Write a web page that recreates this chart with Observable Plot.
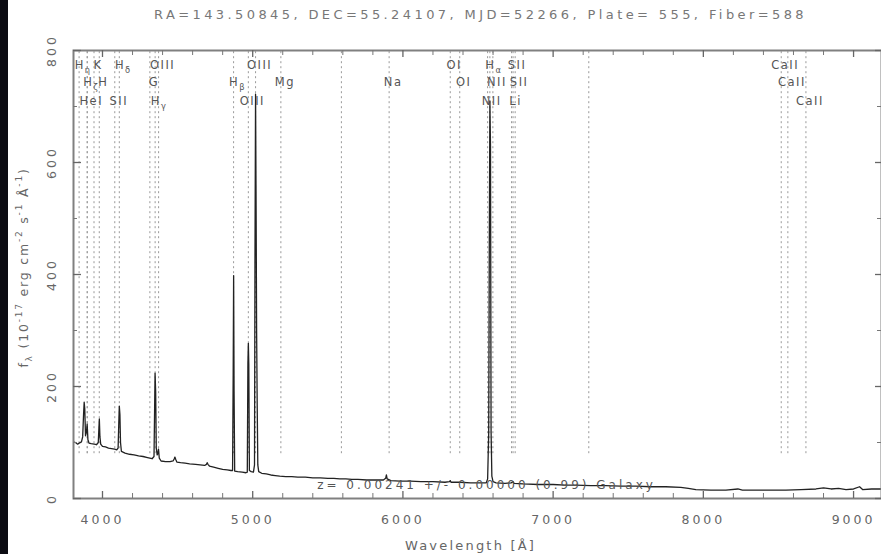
<!DOCTYPE html>
<html><head><meta charset="utf-8">
<script src="https://cdn.jsdelivr.net/npm/d3@7"></script>
<script src="https://cdn.jsdelivr.net/npm/@observablehq/plot@0.6"></script>
<style>
html,body{margin:0;padding:0;background:#fff;overflow:hidden;}
#strip{position:fixed;left:0;top:0;width:8px;height:100%;background:#0b0b12;z-index:5;}
#title{height:32px;line-height:30px;width:881px;box-sizing:border-box;padding-left:80px;text-align:center;font-family:"DejaVu Sans";font-size:13px;letter-spacing:3.4px;color:#777;white-space:nowrap;}
</style></head><body>
<div id="strip"></div>
<div id="title"></div>
<div id="chart"></div>
<script>
// ---- data ----
const titleText = "RA=143.50845, DEC=55.24107, MJD=52266, Plate= 555, Fiber=588";
const zText = "z= 0.00241 +/- 0.00000 (0.99) Galaxy";
const xTitle = "Wavelength [Å]";
const yTitle = "f_λ (10^-17 erg cm^-2 s^-1 Å^-1)";
const redshift = 0.00241;

const specWave = [3807,3820,3835,3845,3860,3868,3874,3878,3882,3887,3893,3898,3903,3910,3925,3945,3960,3972,3976,3979,3983,3988,
  4000,4020,4040,4060,4080,4095,4104,4108,4112,4116,4120,4126,4150,4180,4210,4240,4270,4300,4330,4343,4347,4350,4354,4358,4364,4368,4373,4378,
  4390,4420,4450,4470,4478,4482,4487,4495,4520,4550,4580,4620,4650,4680,4692,4697,4702,4712,4740,4770,4800,4830,4855,4866,4870,4873,4876,4880,
  4900,4930,4955,4964,4968,4971,4974,4978,4990,5005,5012,5015,5019,5022,5026,5030,5034,5040,5060,5090,5120,5150,5180,5220,5260,5300,5350,5400,
  5450,5500,5540,5580,5620,5660,5700,5760,5820,5870,5885,5890,5895,5920,5980,6050,6120,6200,6280,6310,6315,6320,6380,6450,6520,6555,6564,6571,
  6575,6579,6583,6587,6592,6600,6620,6680,6720,6733,6740,6800,6900,7000,7080,7150,7250,7350,7450,7550,7650,7750,7850,7900,7950,8050,8150,8230,
  8260,8350,8450,8550,8650,8750,8800,8850,8900,8950,9000,9040,9060,9120,9186];
const specFlux = [101,100,97,99,101,110,150,172,160,112,118,133,105,99,98,97,96,100,125,142,110,97,
  93,92,90,89,88,87,90,130,165,150,100,84,81,79,78,76,75,73,71,75,160,224,190,90,78,80,88,72,
  67,66,66,67,71,74,70,65,64,63,62,61,60,59,61,64,61,58,56,54,52,51,50,50,220,398,190,49,
  48,47,46,47,240,277,240,50,48,47,60,420,722,560,300,165,60,48,45,44,42,41,40,39,39,38,38,37,
  37,36,36,35,35,34,34,33,33,33,36,42,35,32,31,31,30,30,29,30,32,29,29,28,28,28,35,116,
  446,710,630,120,40,30,28,27,28,30,27,26,25,25,24,24,23,23,22,22,21,21,20,18,16,15,15,17,
  15,15,15,15,16,17,19,17,18,16,17,21,16,17,17];

const labelText = ["H_η","K","H_δ","OIII","OIII","OI","H_α","SII","CaII",
                   "H_ζ","H","G","H_β","Mg","Na","OI","NII","SII","CaII",
                   "HeI","SII","H_γ","OIII","NII","Li","CaII"];
const labelRest = [3835,3934,4102,4363,5007,6300,6563,6717,8498,
                   3889,3969,4305,4861,5175,5894,6363,6583,6731,8542,
                   3889,4072,4340,4959,6548,6707,8662];
const labelRow  = [1,1,1,1,1,1,1,1,1,
                   2,2,2,2,2,2,2,2,2,2,
                   3,3,3,3,3,3,3];
const unlabeledRest = [5577, 7220];

const xMajor = [4000,5000,6000,7000,8000,9000];
const xMinor = [4200,4400,4600,4800,5200,5400,5600,5800,6200,6400,6600,6800,7200,7400,7600,7800,8200,8400,8600,8800];
const yMajor = [0,200,400,600,800];
const yMinor = [100,300,500,700];

// ---- build ----
document.getElementById("title").textContent = titleText;
const spectrum = specWave.map((w,i)=>({w, f: specFlux[i]}));
const labels = labelText.map((t,i)=>({text:t, obs: labelRest[i]*(1+redshift), row: labelRow[i]}));
const lineObs = labelRest.concat(unlabeledRest).map(r => r*(1+redshift));

const W = 881, H = 522, mL = 73, mR = 0, mT = 18, mB = 56;
const innerW = W - mL - mR, innerH = H - mT - mB;
const lineBottom = 80;
const rowDy = [15, 32, 51];
const txt = "#666";

const chart = Plot.plot({
  width: W, height: H, marginLeft: mL, marginRight: mR, marginTop: mT, marginBottom: mB,
  x: {domain: [3807, 9186]},
  y: {domain: [0, 800]},
  axis: null,
  style: {fontFamily: "DejaVu Sans", background: "#fff", overflow: "visible"},
  marks: [
    Plot.ruleX(lineObs, {x: d=>d, y1: lineBottom, y2: 800, stroke: "#999", strokeWidth: 1, strokeDasharray: "2,3"}),
    Plot.line(spectrum, {x: "w", y: "f", stroke: "#222", strokeWidth: 1.3, clip: true}),
    Plot.frame({stroke: "#808080", strokeWidth: 2}),
    Plot.tickX(xMajor, {x: d=>d, insetTop: innerH - 7, stroke: "#666", strokeWidth: 1.3}),
    Plot.tickX(xMajor, {x: d=>d, insetBottom: innerH - 7, stroke: "#666", strokeWidth: 1.3}),
    Plot.tickX(xMinor, {x: d=>d, insetTop: innerH - 5, stroke: "#777"}),
    Plot.tickX(xMinor, {x: d=>d, insetBottom: innerH - 5, stroke: "#777"}),
    Plot.tickY(yMajor, {y: d=>d, insetRight: innerW - 8, stroke: "#666", strokeWidth: 1.3}),
    Plot.tickY(yMajor, {y: d=>d, insetLeft: innerW - 6, stroke: "#666", strokeWidth: 1.3}),
    Plot.tickY(yMinor, {y: d=>d, insetRight: innerW - 4, stroke: "#777"}),
    Plot.tickY(yMinor, {y: d=>d, insetLeft: innerW - 4, stroke: "#777"}),
    Plot.text(xMajor, {x: d=>d, text: d=>String(d), frameAnchor: "bottom", textAnchor: "middle", lineAnchor: "middle", dy: 21, fontSize: 12.5, fill: txt, ariaDescription: "xtick"}),
    Plot.text(yMajor, {y: d=>d, text: d=>String(d), frameAnchor: "left", textAnchor: "middle", lineAnchor: "middle", dx: -22, rotate: -90, fontSize: 12.5, fill: txt, ariaDescription: "ytick"}),
    ...[1,2,3].map(r => Plot.text(labels.filter(d=>d.row===r), {x: "obs", text: "text", frameAnchor: "top", textAnchor: "middle", lineAnchor: "middle", dy: rowDy[r-1], dx: 4, fontSize: 11.5, fill: "#555", ariaDescription: "linelabel"})),
    Plot.text([zText], {text: d=>d, frameAnchor: "bottom", textAnchor: "middle", lineAnchor: "middle", dx: 9, dy: -13, fontSize: 12, fill: "#555", ariaDescription: "ztext"}),
    Plot.text([xTitle], {text: d=>d, frameAnchor: "bottom", textAnchor: "middle", lineAnchor: "middle", dx: -7, dy: 47, fontSize: 13, fill: txt, ariaDescription: "xtitle"}),
    Plot.text([yTitle], {text: d=>d, frameAnchor: "left", textAnchor: "middle", lineAnchor: "middle", dx: -50, dy: -7, rotate: -90, fontSize: 12.5, fill: txt, ariaDescription: "ytitle"})
  ]
});
document.getElementById("chart").appendChild(chart);

// letter spacing per group
const spacing = {xtick: 3, ytick: 3, linelabel: 1.5, ztext: 3, xtitle: 2.2, ytitle: 1.8};
for (const [k, v] of Object.entries(spacing)) {
  d3.select(chart).selectAll(`g[aria-description="${k}"] text`).style("letter-spacing", v + "px");
}
// sub/superscripts
d3.select(chart).selectAll("text").each(function() {
  const s = this.textContent;
  if (!/[_^]/.test(s)) return;
  const fs = parseFloat(getComputedStyle(this).fontSize) || 12;
  const parts = s.split(/([_^][^\s)_^]+)/).filter(p => p !== "");
  this.textContent = "";
  let cur = 0;
  for (const p of parts) {
    const ts = document.createElementNS("http://www.w3.org/2000/svg", "tspan");
    let target = 0, t = p, small = false;
    if (p[0] === "^") { target = -0.42 * fs; t = p.slice(1); small = true; }
    else if (p[0] === "_") { target = 0.32 * fs; t = p.slice(1); small = true; }
    ts.setAttribute("dy", (target - cur).toFixed(2));
    cur = target;
    if (small) ts.setAttribute("font-size", (fs * 0.72).toFixed(1));
    ts.textContent = t;
    this.appendChild(ts);
  }
});
</script>
</body></html>
